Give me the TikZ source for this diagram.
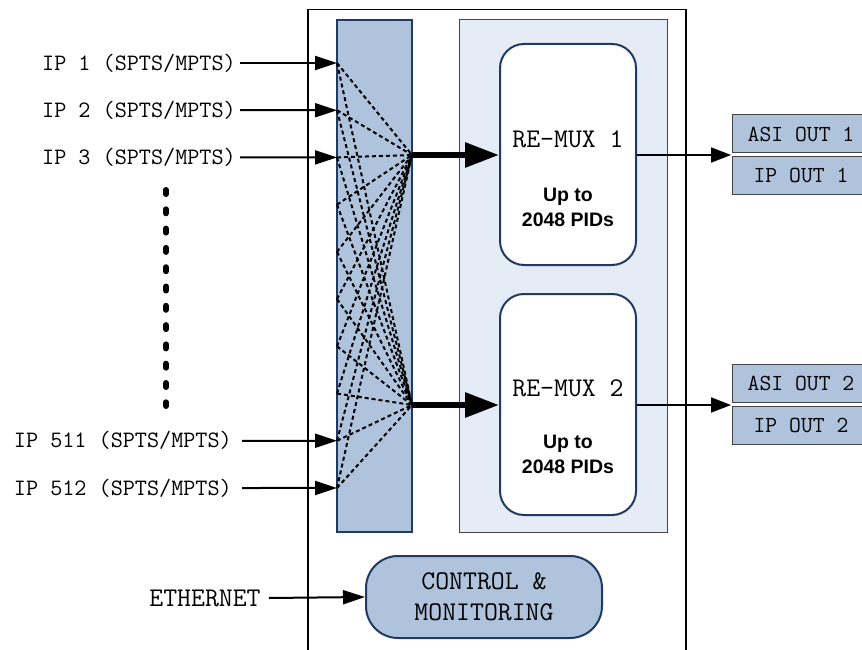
\documentclass[tikz,border=0pt]{standalone}
\usepackage{fontspec}
\newfontfamily\pidfont{Liberation Sans}
\usetikzlibrary{arrows.meta}
\definecolor{navy}{HTML}{1F3B63}
\definecolor{steel}{HTML}{AFC3DC}
\definecolor{pale}{HTML}{E5ECF6}
\definecolor{edgegray}{HTML}{444444}
\newcommand{\monoset}[2]{\ttfamily\addfontfeatures{FakeBold=0.6}\fontsize{#1}{#2}\selectfont}
\begin{document}
\begin{tikzpicture}[x=1pt,y=-1pt,
  lab/.style={font=\monoset{23.5}{26}, anchor=east, inner sep=0pt},
  big/.style={font=\monoset{27}{30}, inner sep=0pt, align=center},
  outlab/.style={font=\monoset{23}{26}},
  pid/.style={font=\pidfont\bfseries\fontsize{19.5}{25}\selectfont, align=center, inner sep=0pt},
  swbox/.style={draw=navy, line width=2pt, fill=steel, minimum width=75pt, minimum height=512pt, inner sep=0pt},
  panelbox/.style={draw=edgegray, line width=1pt, fill=pale, minimum width=208pt, minimum height=512pt, inner sep=0pt},
  muxbox/.style={draw=navy, line width=2pt, fill=white, rounded corners=24pt, minimum width=136pt, minimum height=221pt, inner sep=0pt},
  outbox/.style={draw=edgegray, line width=1pt, fill=steel, minimum width=138pt, inner sep=0pt},
  ctlbox/.style={draw=navy, line width=2pt, fill=steel, rounded corners=32pt, minimum width=236pt, minimum height=82pt, inner sep=0pt, align=center, font=\monoset{27}{31}},
  inarrow/.style={line width=2pt, -{Triangle[length=22pt,width=14pt]}},
  fatarrow/.style={line width=6pt, -{Triangle[length=34pt,width=24pt]}},
  outarrow/.style={line width=1.8pt, -{Triangle[length=20pt,width=15pt]}},
  xlink/.style={line width=2pt, dash pattern=on 4pt off 3pt},
  vdots/.style={line width=6pt, line cap=round, dash pattern=on 4pt off 15.3pt}
]
\useasboundingbox (0,0) rectangle (862,650);
\fill[white] (0,0) rectangle (862,650);

% outer enclosure (open at the bottom edge of the picture)
\draw[line width=1.3pt] (308,670) -- (308,9.5) -- (686,9.5) -- (686,670);

% switch and re-mux panel
\node[swbox] (sw) at (374.5,276) {};
\node[panelbox] (panel) at (563,276) {};
\node[muxbox] (rm1) at (568,154.5) {};
\node[muxbox] (rm2) at (568,404.5) {};
\node[big] (rm1t) at (568,139) {RE-MUX 1};
\node[pid] (rm1p) at (568,207.5) {Up to\\2048 PIDs};
\node[big] (rm2t) at (568,388) {RE-MUX 2};
\node[pid] (rm2p) at (568,454.5) {Up to\\2048 PIDs};

% cross-connect points
\foreach \k in {0,...,9}{
  \coordinate (p\k) at (337,{63+47.22*\k});
}
\coordinate (q1) at (412,155);
\coordinate (q2) at (412,405);
\foreach \k in {0,...,9}{
  \draw[xlink] (p\k) -- (q1);
  \draw[xlink] (p\k) -- (q2);
}

% inputs
\node[lab] (ip1) at (236,63) {IP 1 (SPTS/MPTS)};
\node[lab] (ip2) at (236,110.2) {IP 2 (SPTS/MPTS)};
\node[lab] (ip3) at (236,157.4) {IP 3 (SPTS/MPTS)};
\node[lab] (ip511) at (232,440.8) {IP 511 (SPTS/MPTS)};
\node[lab] (ip512) at (232,488) {IP 512 (SPTS/MPTS)};
\draw[inarrow] ([xshift=4pt]ip1.east) -- (p0);
\draw[inarrow] ([xshift=4pt]ip2.east) -- (p1);
\draw[inarrow] ([xshift=4pt]ip3.east) -- (p2);
\draw[inarrow] ([xshift=10pt]ip511.east) -- (p8);
\draw[inarrow] ([xshift=10pt]ip512.east) -- (p9);

% vertical ellipsis
\draw[vdots] (166,190) -- (166,406);

% switch to re-mux
\draw[fatarrow] (q1) -- (rm1.west |- q1);
\draw[fatarrow] (q2) -- (rm2.west |- q2);

% outputs
\node[outbox, minimum height=38pt] (asi1) at (801,134) {};
\node[outbox, minimum height=37pt] (ipo1) at (801,175.5) {};
\node[outbox, minimum height=38pt] (asi2) at (801,383) {};
\node[outbox, minimum height=38pt] (ipo2) at (801,425) {};
\node[outlab] at (asi1.center) {ASI OUT 1};
\node[outlab] at (ipo1.center) {IP OUT 1};
\node[outlab] at (asi2.center) {ASI OUT 2};
\node[outlab] at (ipo2.center) {IP OUT 2};
\coordinate (o1) at (731,155);
\coordinate (o2) at (731,405);
\draw[outarrow] (rm1.east |- o1) -- (o1);
\draw[outarrow] (rm2.east |- o2) -- (o2);

% control
\node[ctlbox] (ctl) at (484,597) {CONTROL \&\\MONITORING};
\node[font=\monoset{27}{30}, inner sep=0pt] (eth) at (205,598) {ETHERNET};
\draw[inarrow] ([xshift=8pt]eth.east) -- (ctl.west);
\end{tikzpicture}
\end{document}
